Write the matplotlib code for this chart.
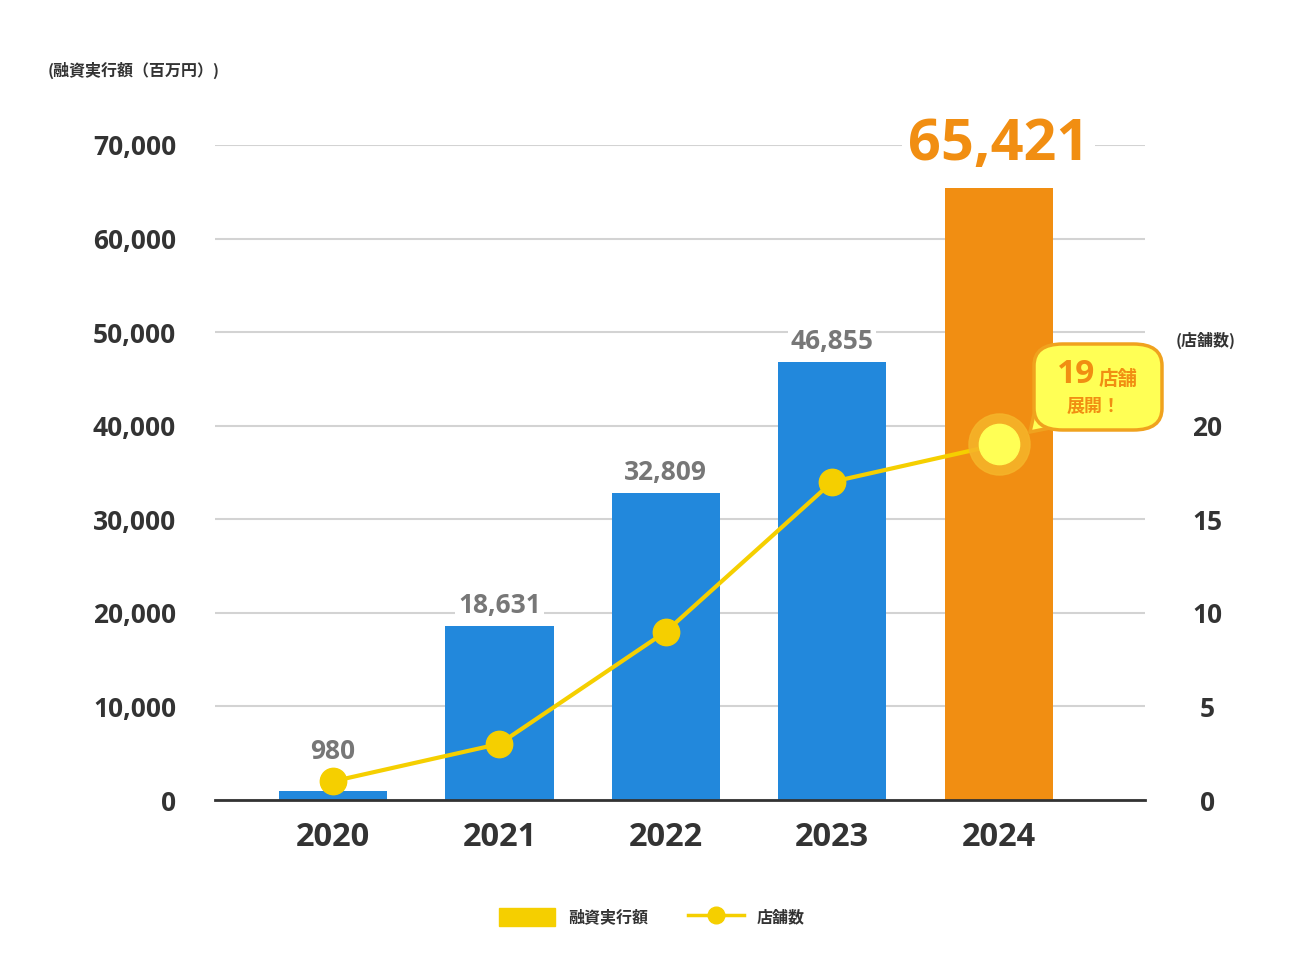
import matplotlib
matplotlib.use("Agg")
import matplotlib.pyplot as plt
from matplotlib.patches import Patch, FancyBboxPatch, Polygon
from matplotlib.lines import Line2D

plt.rcParams['font.family'] = ['Noto Sans CJK JP', 'DejaVu Sans']
NUMFONT = ['Open Sans', 'Noto Sans CJK JP']

years = ['2020', '2021', '2022', '2023', '2024']
amounts = [980, 18631, 32809, 46855, 65421]
stores = [1, 3, 9, 17, 19]
left_ticks = [0, 10000, 20000, 30000, 40000, 50000, 60000, 70000]
right_ticks = [0, 5, 10, 15, 20]

BLUE = '#2288DC'
ORANGE = '#F18E12'
YELLOW = '#F5CF00'
DARK = '#333333'
GREY = '#777777'

fig = plt.figure(figsize=(13, 9.8), dpi=100)
ax = fig.add_axes([215/1300, 1-800/980, (1145-215)/1300, (800-145)/980])
ax2 = ax.twinx()

x = list(range(len(years)))
colors = [BLUE]*(len(years)-1) + [ORANGE]
ax.bar(x, amounts, width=0.65, color=colors, zorder=2)
ax.set_xlim(-0.71, 4.88)
ax.set_ylim(0, 70000)
ax.set_yticks(left_ticks)
ax.set_yticklabels([f'{v:,}' for v in left_ticks])
ax.set_xticks(x)
ax.set_xticklabels(years)
ax.grid(axis='y', color='#D3D3D3', linewidth=1.5, zorder=0)
ax.set_axisbelow(True)
for s in ['top', 'right', 'left']:
    ax.spines[s].set_visible(False)
ax.spines['bottom'].set_color(DARK)
ax.spines['bottom'].set_linewidth(2)
ax.spines['bottom'].set_zorder(3)
ax.tick_params(axis='y', length=0, pad=28, labelsize=19, labelcolor=DARK)
ax.tick_params(axis='x', length=0, pad=15, labelsize=23.5, labelcolor=DARK)
for t in ax.get_yticklabels() + ax.get_xticklabels():
    t.set_family(NUMFONT)
    t.set_fontweight('bold')

ax2.set_ylim(0, 35)
ax2.set_yticks(right_ticks)
ax2.set_yticklabels([str(v) for v in right_ticks])
for s in ['top', 'right', 'left', 'bottom']:
    ax2.spines[s].set_visible(False)
ax2.tick_params(axis='y', length=0, pad=45, labelsize=19, labelcolor=DARK)
for t in ax2.get_yticklabels():
    t.set_family(NUMFONT)
    t.set_fontweight('bold')
    t.set_horizontalalignment('center')

ax2.plot(x, stores, color=YELLOW, linewidth=3, zorder=4)
ax2.plot(x[:-1], stores[:-1], 'o', color=YELLOW, markersize=19, zorder=5)
ax2.plot([x[-1]], [stores[-1]], 'o', color='#F5B52A', markersize=44, alpha=0.85, zorder=5)
ax2.plot([x[-1]], [stores[-1]], 'o', color='#FFFF55', markersize=29, zorder=6)

# value labels
for i, v in enumerate(amounts[:-1]):
    ystore = stores[i] * 2000
    anchor = max(v, ystore + 1000)
    ax.annotate(f'{v:,}', (i, anchor), xytext=(0, 5), textcoords='offset points',
                ha='center', va='bottom', fontsize=19, fontweight='bold', color=GREY,
                family=NUMFONT, bbox=dict(boxstyle='square,pad=0.1', fc='white', ec='none'),
                zorder=7)
ax.annotate(f'{amounts[-1]:,}', (x[-1], 70000), xytext=(0, 0), textcoords='offset points',
            ha='center', va='center', fontsize=41.5, fontweight='bold', color=ORANGE,
            family=NUMFONT,
            bbox=dict(boxstyle='square,pad=0.1', fc='white', ec='none'), zorder=7)

# callout bubble
bub = FancyBboxPatch((1034/1300, 1-430/980), (1162-1034)/1300, (430-344)/980,
                     boxstyle='round,pad=0,rounding_size=0.022', transform=fig.transFigure,
                     fc='#FFFF55', ec='#F0A21E', lw=2.5, zorder=10)
fig.patches.append(bub)
tail = Polygon([(1036/1300, 1-405/980), (1030/1300, 1-432/980), (1050/1300, 1-428/980)],
               closed=True, transform=fig.transFigure, fc='#FFFF55', ec='#F0A21E', lw=2.5, zorder=9)
fig.patches.append(tail)
fig.text(1076/1300, 1-374/980, '19', fontsize=24, fontweight='bold', color=ORANGE,
         family=NUMFONT, ha='center', va='center', zorder=12)
fig.text(1118/1300, 1-379/980, '店舗', fontsize=14, fontweight='bold', color=ORANGE,
         ha='center', va='center', zorder=12)
fig.text(1094/1300, 1-406/980, '展開！', fontsize=13, fontweight='bold', color=ORANGE,
         ha='center', va='center', zorder=12)

# axis titles
fig.text(48/1300, 1-70/980, '(融資実行額（百万円）)', fontsize=11.5, fontweight='bold',
         color=DARK, ha='left', va='center')
fig.text(1206/1300, 1-340/980, '(店舗数)', fontsize=11.5, fontweight='bold',
         color=DARK, ha='center', va='center')

handles = [Patch(color=YELLOW, label='融資実行額'),
           Line2D([0], [0], color=YELLOW, lw=2.5, marker='o', markersize=12, label='店舗数')]
leg = fig.legend(handles=handles, loc='center', bbox_to_anchor=(652/1300, 1-917/980), ncol=2,
                 frameon=False, fontsize=11.5, handlelength=3.5, handleheight=1.3,
                 columnspacing=2.5, handletextpad=0.8)
for t in leg.get_texts():
    t.set_fontweight('bold')
    t.set_color(DARK)

fig.savefig('out.png', dpi=100)
